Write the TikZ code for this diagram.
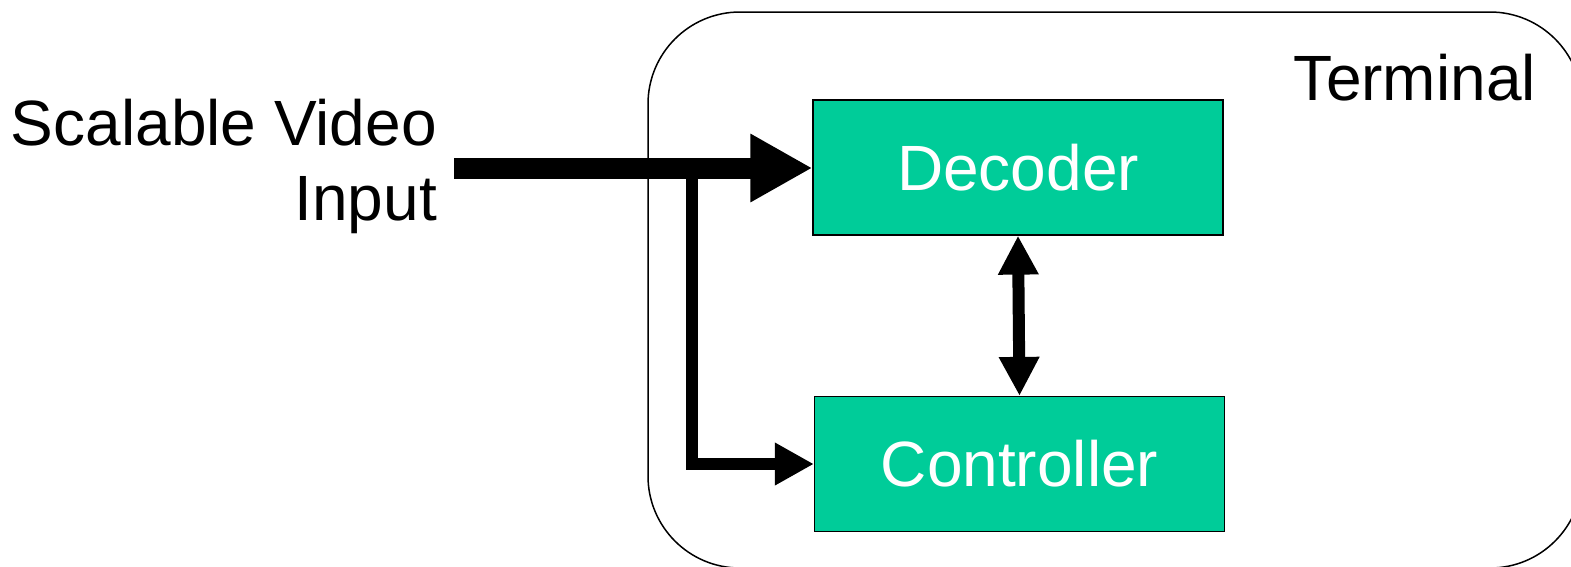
\documentclass[tikz,border=0pt]{standalone}
\usepackage{fontspec}
\setmainfont{Liberation Sans}
\usetikzlibrary{arrows.meta}
\definecolor{boxgreen}{RGB}{0,204,153}

\begin{document}
\begin{tikzpicture}[x=1pt, y=-1pt,
        block/.style = {draw = black, line width = 1.2pt, fill = boxgreen, text = white,
                        minimum width = 410pt, minimum height = 135pt, inner sep = 0pt,
                        font = \fontsize{64}{75}\selectfont},
        label/.style = {inner sep = 0pt, font = \fontsize{64}{75}\selectfont},
        bigarrow/.style = {line width = 21pt, -{Triangle[length = 62pt, width = 64pt]}},
        smallarrow/.style = {line width = 12pt, line join = miter, -{Triangle[length = 39pt, width = 40pt]}},
        duplex/.style = {line width = 12pt, {Triangle[length = 39pt, width = 38pt]}-{Triangle[length = 39pt, width = 38pt]}}]
    \useasboundingbox (0, 0) rectangle (1571, 566);

    % terminal outline
    \draw [line width = 1.5pt, rounded corners = 92pt] (648, 12) rectangle (1582, 568);
    \node [label, anchor = base east] (term) at (1536, 100) {Terminal};

    % blocks
    \node [block] (dec) at (1018, 167.5) {Decoder};
    \node [block] (ctrl) at (1019.5, 464) {Controller};

    % input
    \node [label, anchor = base east, align = right] (input) at (437, 220) {Scalable Video\\Input};
    \coordinate (src) at (454, 168);
    \coordinate (fork) at (692, 168);

    \draw [bigarrow] (src) -- (dec.west |- src);
    \draw [smallarrow] (fork) |- (ctrl.west);
    \draw [duplex] (dec.south) -- (ctrl.north);
\end{tikzpicture}
\end{document}
